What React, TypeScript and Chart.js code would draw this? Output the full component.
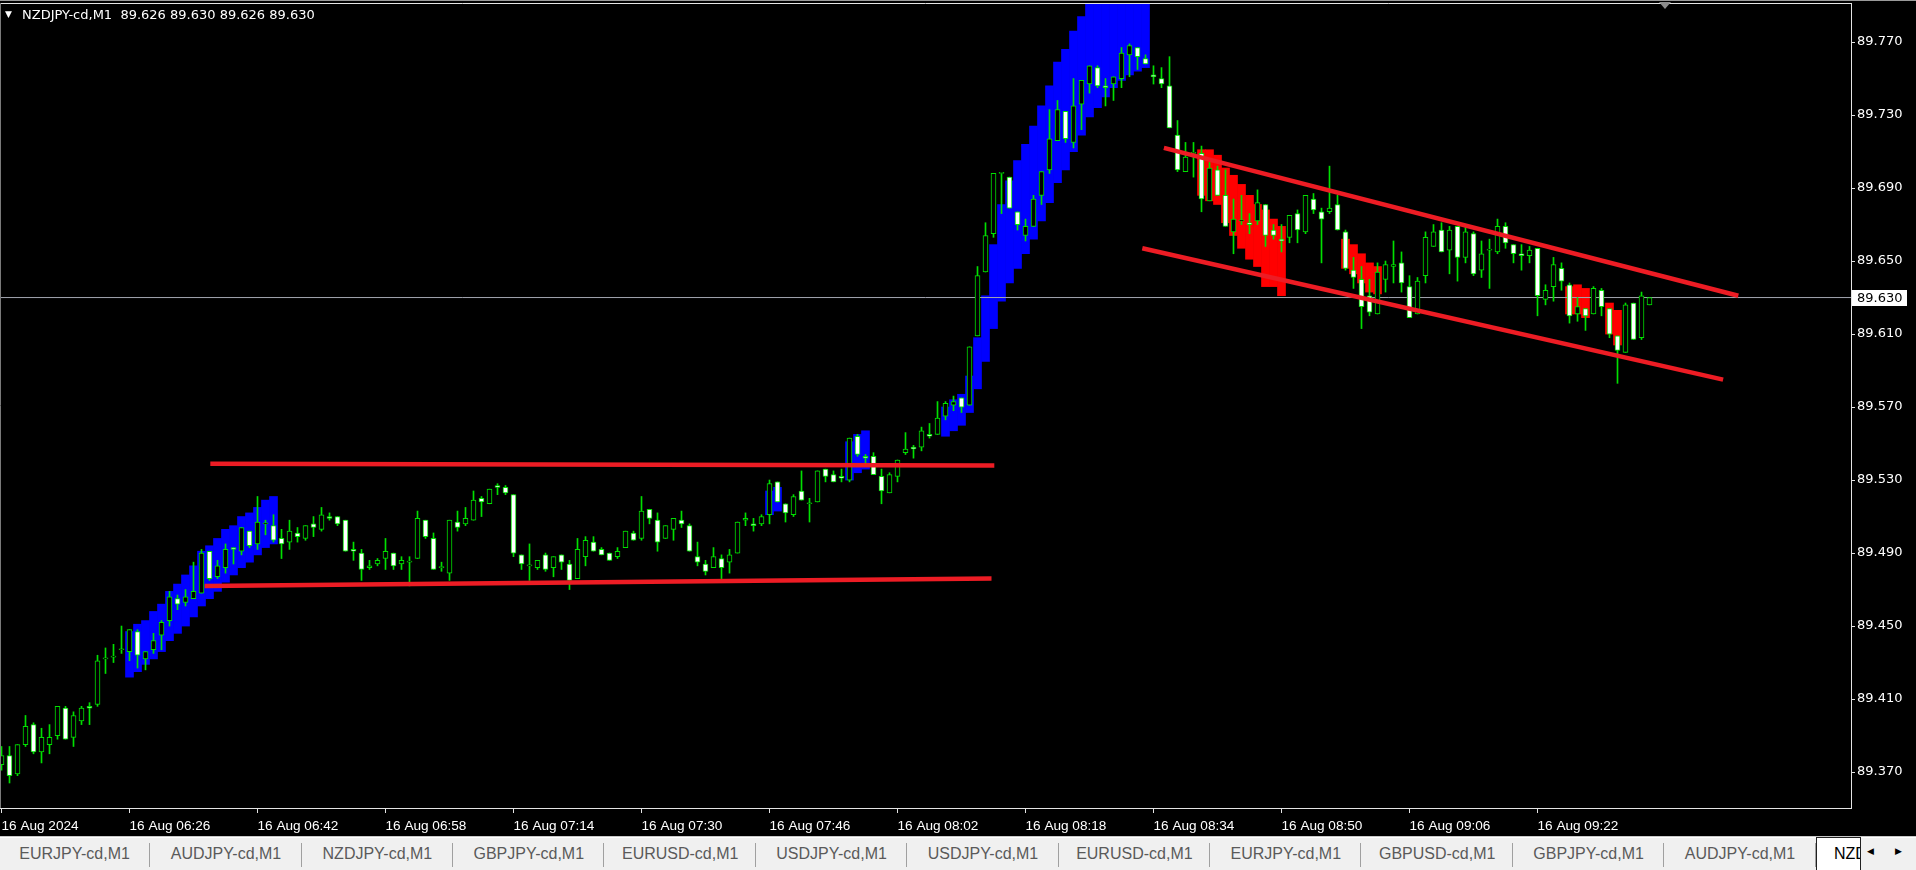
import React, { useEffect, useRef } from "react";
import { Chart, registerables } from "chart.js";

Chart.register(...registerables);

// ---------------- DATA ----------------
const chartTitle = "NZDJPY-cd,M1  89.626 89.630 89.626 89.630";
const lastPrice = 89.63;

// one-minute bars, 16 Aug 2024 06:10 .. 09:36
const opens = [
  89.374, 89.379, 89.369, 89.385, 89.396, 89.381, 89.385, 89.39, 89.405, 89.389,
  89.398, 89.406, 89.407, 89.432, 89.433, 89.437, 89.436, 89.447, 89.432, 89.437,
  89.445, 89.453, 89.465, 89.463, 89.465, 89.468, 89.491, 89.477, 89.482, 89.493,
  89.491, 89.502, 89.495, 89.506, 89.505, 89.498, 89.496, 89.501, 89.498, 89.506,
  89.503, 89.51, 89.51, 89.508, 89.492, 89.49, 89.482, 89.484, 89.487, 89.49,
  89.484, 89.485, 89.487, 89.508, 89.498, 89.482, 89.479, 89.507, 89.506, 89.508,
  89.52, 89.517, 89.527, 89.526, 89.522, 89.489, 89.483, 89.482, 89.489, 89.482,
  89.489, 89.484, 89.476, 89.488, 89.496, 89.492, 89.49, 89.488, 89.493, 89.501,
  89.498, 89.514, 89.508, 89.498, 89.503, 89.508, 89.505, 89.488, 89.484, 89.482,
  89.487, 89.485, 89.49, 89.508, 89.506, 89.506, 89.511, 89.529, 89.517, 89.511,
  89.524, 89.517, 89.518, 89.536, 89.533, 89.532, 89.53, 89.554, 89.543, 89.543,
  89.532, 89.523, 89.532, 89.545, 89.548, 89.548, 89.555, 89.555, 89.565, 89.571,
  89.575, 89.571, 89.609, 89.644, 89.665, 89.698, 89.696, 89.677, 89.664, 89.669,
  89.686, 89.7, 89.716, 89.732, 89.715, 89.736, 89.747, 89.756, 89.746, 89.747,
  89.75, 89.763, 89.767, 89.761, 89.752, 89.75, 89.746, 89.719, 89.699, 89.709,
  89.709, 89.683, 89.7, 89.686, 89.666, 89.672, 89.671, 89.672, 89.681, 89.667,
  89.662, 89.663, 89.676, 89.666, 89.684, 89.677, 89.677, 89.681, 89.666, 89.645,
  89.64, 89.631, 89.621, 89.64, 89.647, 89.649, 89.636, 89.621, 89.642, 89.658,
  89.667, 89.656, 89.669, 89.652, 89.665, 89.645, 89.656, 89.655, 89.669, 89.659,
  89.654, 89.653, 89.657, 89.629, 89.636, 89.646, 89.637, 89.621, 89.624, 89.621,
  89.634, 89.624, 89.609, 89.6, 89.627, 89.608, 89.626,
];
const highs = [
  89.384, 89.384, 89.385, 89.401, 89.397, 89.394, 89.396, 89.406, 89.406, 89.403,
  89.406, 89.408, 89.434, 89.438, 89.44, 89.45, 89.448, 89.448, 89.436, 89.446,
  89.453, 89.469, 89.467, 89.47, 89.485, 89.492, 89.491, 89.486, 89.495, 89.493,
  89.504, 89.502, 89.521, 89.508, 89.511, 89.503, 89.508, 89.504, 89.505, 89.51,
  89.515, 89.512, 89.51, 89.508, 89.496, 89.492, 89.486, 89.487, 89.498, 89.49,
  89.488, 89.488, 89.513, 89.508, 89.501, 89.485, 89.508, 89.513, 89.515, 89.524,
  89.521, 89.525, 89.528, 89.527, 89.522, 89.489, 89.495, 89.486, 89.49, 89.488,
  89.489, 89.486, 89.498, 89.499, 89.499, 89.493, 89.49, 89.493, 89.502, 89.502,
  89.521, 89.514, 89.512, 89.505, 89.509, 89.513, 89.506, 89.496, 89.486, 89.493,
  89.489, 89.492, 89.507, 89.512, 89.509, 89.511, 89.53, 89.529, 89.517, 89.522,
  89.535, 89.52, 89.535, 89.536, 89.535, 89.536, 89.553, 89.555, 89.544, 89.545,
  89.536, 89.534, 89.541, 89.556, 89.549, 89.559, 89.561, 89.573, 89.573, 89.576,
  89.575, 89.603, 89.647, 89.671, 89.698, 89.698, 89.696, 89.677, 89.673, 89.686,
  89.699, 89.733, 89.738, 89.732, 89.75, 89.749, 89.757, 89.757, 89.75, 89.751,
  89.767, 89.769, 89.767, 89.763, 89.757, 89.756, 89.762, 89.727, 89.715, 89.715,
  89.713, 89.704, 89.702, 89.7, 89.684, 89.686, 89.676, 89.689, 89.681, 89.67,
  89.67, 89.675, 89.678, 89.686, 89.687, 89.679, 89.702, 89.686, 89.667, 89.652,
  89.647, 89.64, 89.649, 89.65, 89.661, 89.655, 89.642, 89.641, 89.666, 89.67,
  89.671, 89.669, 89.669, 89.669, 89.666, 89.661, 89.662, 89.673, 89.671, 89.659,
  89.659, 89.658, 89.657, 89.637, 89.652, 89.649, 89.638, 89.63, 89.624, 89.636,
  89.635, 89.624, 89.609, 89.627, 89.627, 89.633, 89.63,
];
const lows = [
  89.371, 89.364, 89.368, 89.384, 89.38, 89.375, 89.38, 89.388, 89.388, 89.384,
  89.396, 89.396, 89.406, 89.424, 89.43, 89.435, 89.431, 89.427, 89.426, 89.435,
  89.437, 89.45, 89.459, 89.461, 89.465, 89.468, 89.475, 89.476, 89.479, 89.484,
  89.489, 89.493, 89.492, 89.5, 89.496, 89.487, 89.492, 89.496, 89.497, 89.499,
  89.502, 89.508, 89.505, 89.491, 89.486, 89.475, 89.481, 89.483, 89.481, 89.481,
  89.481, 89.472, 89.487, 89.498, 89.481, 89.48, 89.475, 89.502, 89.505, 89.508,
  89.51, 89.517, 89.522, 89.522, 89.488, 89.481, 89.475, 89.481, 89.48, 89.477,
  89.481, 89.47, 89.476, 89.483, 89.491, 89.489, 89.486, 89.487, 89.493, 89.497,
  89.497, 89.506, 89.491, 89.498, 89.497, 89.504, 89.491, 89.483, 89.478, 89.482,
  89.476, 89.479, 89.49, 89.505, 89.502, 89.505, 89.506, 89.518, 89.507, 89.51,
  89.519, 89.507, 89.518, 89.529, 89.529, 89.529, 89.529, 89.543, 89.539, 89.533,
  89.517, 89.523, 89.529, 89.544, 89.542, 89.546, 89.553, 89.555, 89.563, 89.568,
  89.567, 89.571, 89.609, 89.644, 89.663, 89.676, 89.679, 89.667, 89.661, 89.669,
  89.681, 89.698, 89.716, 89.715, 89.712, 89.722, 89.742, 89.745, 89.735, 89.738,
  89.745, 89.751, 89.755, 89.758, 89.747, 89.745, 89.723, 89.699, 89.699, 89.696,
  89.677, 89.683, 89.686, 89.669, 89.654, 89.67, 89.665, 89.67, 89.658, 89.662,
  89.655, 89.66, 89.66, 89.665, 89.676, 89.649, 89.676, 89.667, 89.645, 89.635,
  89.613, 89.62, 89.621, 89.633, 89.638, 89.633, 89.619, 89.621, 89.638, 89.658,
  89.655, 89.643, 89.639, 89.649, 89.642, 89.641, 89.635, 89.654, 89.657, 89.649,
  89.645, 89.649, 89.62, 89.626, 89.628, 89.634, 89.616, 89.617, 89.612, 89.621,
  89.62, 89.608, 89.583, 89.6, 89.607, 89.607, 89.626,
];
const closes = [
  89.379, 89.368, 89.385, 89.395, 89.381, 89.389, 89.389, 89.406, 89.388, 89.401,
  89.405, 89.405, 89.431, 89.432, 89.433, 89.437, 89.448, 89.434, 89.436, 89.442,
  89.452, 89.466, 89.462, 89.466, 89.469, 89.49, 89.476, 89.483, 89.492, 89.492,
  89.504, 89.494, 89.507, 89.506, 89.497, 89.495, 89.502, 89.499, 89.505, 89.504,
  89.511, 89.509, 89.506, 89.491, 89.491, 89.481, 89.483, 89.486, 89.491, 89.483,
  89.486, 89.485, 89.509, 89.499, 89.481, 89.482, 89.508, 89.504, 89.509, 89.519,
  89.518, 89.525, 89.526, 89.523, 89.49, 89.484, 89.483, 89.486, 89.481, 89.488,
  89.485, 89.475, 89.492, 89.497, 89.491, 89.489, 89.486, 89.491, 89.502, 89.497,
  89.513, 89.509, 89.496, 89.505, 89.509, 89.506, 89.491, 89.485, 89.48, 89.488,
  89.482, 89.489, 89.507, 89.509, 89.505, 89.51, 89.528, 89.518, 89.512, 89.521,
  89.519, 89.517, 89.535, 89.532, 89.529, 89.531, 89.553, 89.544, 89.542, 89.533,
  89.524, 89.533, 89.541, 89.547, 89.547, 89.557, 89.554, 89.564, 89.572, 89.573,
  89.57, 89.603, 89.642, 89.664, 89.698, 89.698, 89.679, 89.67, 89.669, 89.684,
  89.699, 89.717, 89.733, 89.717, 89.735, 89.749, 89.757, 89.746, 89.745, 89.751,
  89.764, 89.768, 89.762, 89.758, 89.751, 89.747, 89.723, 89.7, 89.707, 89.709,
  89.684, 89.701, 89.686, 89.669, 89.673, 89.672, 89.67, 89.682, 89.664, 89.664,
  89.661, 89.675, 89.667, 89.686, 89.678, 89.673, 89.679, 89.667, 89.646, 89.641,
  89.625, 89.622, 89.644, 89.648, 89.648, 89.638, 89.619, 89.639, 89.663, 89.666,
  89.655, 89.667, 89.652, 89.666, 89.643, 89.654, 89.656, 89.669, 89.66, 89.654,
  89.653, 89.656, 89.631, 89.634, 89.648, 89.639, 89.62, 89.625, 89.62, 89.635,
  89.625, 89.61, 89.601, 89.626, 89.607, 89.631, 89.63,
];

// blue indicator columns (bar index, top, bottom)
const blueIdx = [
  16, 17, 18, 19, 20, 21, 22, 23, 24, 25, 26, 27, 28, 29, 30, 31, 32, 33, 34,
  96, 97, 106, 107, 108,
  118, 119, 120, 121, 122, 123, 124, 125, 126, 127, 128, 129, 130, 131, 132, 133,
  134, 135, 136, 137, 138, 139, 140, 141, 142, 143,
];
const blueTop = [
  89.447, 89.451, 89.453, 89.458, 89.462, 89.469, 89.473, 89.478, 89.483, 89.491,
  89.494, 89.498, 89.503, 89.505, 89.51, 89.512, 89.515, 89.519, 89.521,
  89.524, 89.526, 89.551, 89.555, 89.557,
  89.57, 89.574, 89.577, 89.587, 89.608, 89.631, 89.659, 89.681, 89.694, 89.705,
  89.714, 89.724, 89.735, 89.746, 89.759, 89.766, 89.776, 89.784, 89.8, 89.8,
  89.8, 89.8, 89.8, 89.8, 89.8, 89.8,
];
const blueBottom = [
  89.422, 89.425, 89.429, 89.432, 89.436, 89.442, 89.446, 89.45, 89.455, 89.461,
  89.465, 89.469, 89.474, 89.478, 89.482, 89.485, 89.489, 89.493, 89.495,
  89.511, 89.513, 89.53, 89.534, 89.536,
  89.554, 89.557, 89.56, 89.567, 89.58, 89.595, 89.613, 89.628, 89.638, 89.646,
  89.654, 89.662, 89.672, 89.682, 89.693, 89.7, 89.71, 89.719, 89.729, 89.734,
  89.74, 89.745, 89.749, 89.752, 89.754, 89.756,
];

// red indicator columns
const redIdx = [150, 151, 152, 153, 154, 155, 156, 157, 158, 159, 160, 168, 169, 170, 171, 172, 196, 197, 198, 201, 202];
const redTop = [
  89.711, 89.711, 89.708, 89.701, 89.697, 89.692, 89.686, 89.681, 89.678, 89.673, 89.669,
  89.662, 89.659, 89.654, 89.649, 89.647, 89.636, 89.637, 89.635, 89.627, 89.623,
];
const redBottom = [
  89.686, 89.683, 89.681, 89.671, 89.664, 89.657, 89.651, 89.647, 89.636, 89.636, 89.631,
  89.646, 89.643, 89.638, 89.633, 89.632, 89.621, 89.621, 89.619, 89.61, 89.604,
];

// hand-drawn trend lines: [barIndex, price] end points
const resistanceLine = [[26.1, 89.539], [124.1, 89.538]];
const supportLine = [[25.4, 89.472], [123.75, 89.476]];
const channelUpper = [[145.3, 89.712], [217.1, 89.631]];
const channelLower = [[142.6, 89.657], [215.2, 89.585]];

// axes
const yTickValues = [89.37, 89.41, 89.45, 89.49, 89.53, 89.57, 89.61, 89.65, 89.69, 89.73, 89.77];
const timeTickIdx = [0, 16, 32, 48, 64, 80, 96, 112, 128, 144, 160, 176, 192];
const timeTickLabels = [
  "16 Aug 2024", "16 Aug 06:26", "16 Aug 06:42", "16 Aug 06:58", "16 Aug 07:14",
  "16 Aug 07:30", "16 Aug 07:46", "16 Aug 08:02", "16 Aug 08:18", "16 Aug 08:34",
  "16 Aug 08:50", "16 Aug 09:06", "16 Aug 09:22",
];
const tabNames = [
  "EURJPY-cd,M1", "AUDJPY-cd,M1", "NZDJPY-cd,M1", "GBPJPY-cd,M1", "EURUSD-cd,M1", "USDJPY-cd,M1",
  "USDJPY-cd,M1", "EURUSD-cd,M1", "EURJPY-cd,M1", "GBPUSD-cd,M1", "GBPJPY-cd,M1", "AUDJPY-cd,M1",
];
const activeTab = "NZDJPY-cd,M1";

// ---------------- STYLE ----------------
const Y_MIN = 89.3503;
const Y_MAX = 89.7914;
const X_MIN = -0.1875;
const X_MAX = 231.1875;
const GREEN = "#00e000";
const FRAME = "#e4e4e4";
const LINE_RED = "#ed1c24";
const PRICE_FONT = "'DejaVu Sans', sans-serif";

const chromePlugin = {
  id: "mtChrome",
  beforeDraw(chart: any) {
    const { ctx, width, height } = chart;
    ctx.save();
    ctx.fillStyle = "#000";
    ctx.fillRect(0, 0, width, height);
    ctx.fillStyle = "#9a9a9a";
    ctx.fillRect(0, 0, width, 1);
    ctx.restore();
  },
  afterDraw(chart: any) {
    const { ctx, chartArea: a, scales } = chart;
    const y = scales.y;
    ctx.save();
    ctx.strokeStyle = FRAME;
    ctx.lineWidth = 1;
    ctx.beginPath();
    ctx.moveTo(a.left, a.top + 0.5);
    ctx.lineTo(a.right, a.top + 0.5);
    ctx.stroke();
    ctx.strokeStyle = "#7a7a7a";
    ctx.beginPath();
    ctx.moveTo(a.left + 0.5, a.top);
    ctx.lineTo(a.left + 0.5, a.bottom);
    ctx.stroke();
    // current price tag
    const py = Math.round(y.getPixelForValue(lastPrice));
    ctx.fillStyle = "#fff";
    ctx.fillRect(a.right + 1, py - 8, 55, 16);
    ctx.fillStyle = "#000";
    ctx.font = "13px " + PRICE_FONT;
    ctx.textBaseline = "middle";
    ctx.textAlign = "left";
    ctx.fillText(lastPrice.toFixed(3), a.right + 6, py + 0.5);
    // chart shift marker
    ctx.fillStyle = "#8c8c8c";
    ctx.beginPath();
    ctx.moveTo(1659, 2);
    ctx.lineTo(1671, 2);
    ctx.lineTo(1665, 9);
    ctx.closePath();
    ctx.fill();
    ctx.restore();
  },
};

function lineDataset(pts: number[][]) {
  return {
    type: "line",
    data: pts.map((p) => ({ x: p[0], y: p[1] })),
    borderColor: LINE_RED,
    borderWidth: 4.5,
    pointRadius: 0,
    fill: false,
    tension: 0,
    order: 0,
  };
}

export default function App() {
  const canvasRef = useRef<HTMLCanvasElement | null>(null);

  useEffect(() => {
    document.body.style.margin = "0";
    document.body.style.background = "#000";
    const canvas = canvasRef.current;
    if (!canvas) return;

    const idx = opens.map((_, i) => i);
    const bodyColors = idx.map((i) => (closes[i] >= opens[i] ? "#000000" : "#ffffff"));

    const chart = new Chart(canvas, {
      type: "bar",
      data: {
        datasets: [
          lineDataset(resistanceLine),
          lineDataset(supportLine),
          lineDataset(channelUpper),
          lineDataset(channelLower),
          {
            type: "bar",
            data: idx.map((i) => ({ x: i, y: [opens[i], closes[i]] })),
            backgroundColor: bodyColors,
            borderColor: GREEN,
            borderWidth: 1,
            borderSkipped: false,
            barThickness: 5,
            minBarLength: 1,
            grouped: false,
            order: 1,
          },
          {
            type: "bar",
            data: idx.map((i) => ({ x: i, y: [lows[i], highs[i]] })),
            backgroundColor: GREEN,
            borderWidth: 0,
            barThickness: 1,
            minBarLength: 1,
            grouped: false,
            order: 2,
          },
          {
            type: "line",
            data: [
              { x: X_MIN, y: lastPrice },
              { x: X_MAX, y: lastPrice },
            ],
            borderColor: "#a3a6b0",
            borderWidth: 1,
            pointRadius: 0,
            fill: false,
            order: 3,
          },
          {
            type: "bar",
            data: blueIdx.map((b, k) => ({ x: b, y: [blueBottom[k], blueTop[k]] })),
            backgroundColor: "#0000ff",
            borderWidth: 0,
            barThickness: 8,
            grouped: false,
            order: 4,
          },
          {
            type: "bar",
            data: redIdx.map((b, k) => ({ x: b, y: [redBottom[k], redTop[k]] })),
            backgroundColor: "#ff0000",
            borderWidth: 0,
            barThickness: 8,
            grouped: false,
            order: 4,
          },
        ] as any,
      },
      options: {
        responsive: false,
        animation: false,
        devicePixelRatio: 1,
        events: [],
        layout: { padding: { top: 3, left: 0, right: 0, bottom: 0 } },
        plugins: { legend: { display: false }, tooltip: { enabled: false }, title: { display: false } },
        scales: {
          x: {
            type: "linear",
            min: X_MIN,
            max: X_MAX,
            offset: false,
            afterBuildTicks: (s: any) => {
              s.ticks = timeTickIdx.map((v) => ({ value: v }));
            },
            afterFit: (s: any) => {
              s.height = 28;
              s.paddingLeft = 0;
              s.paddingRight = 0;
            },
            ticks: {
              autoSkip: false,
              maxRotation: 0,
              minRotation: 0,
              align: "start",
              padding: 5,
              color: "#ffffff",
              font: { family: "'Liberation Sans', Arial, sans-serif", size: 13.6 },
              callback: (v: any) => {
                const k = timeTickIdx.indexOf(Number(v));
                return k >= 0 ? timeTickLabels[k] : "";
              },
            },
            grid: { drawOnChartArea: false, drawTicks: true, tickLength: 5, color: FRAME, offset: false },
            border: { display: true, color: FRAME },
          },
          y: {
            type: "linear",
            position: "right",
            min: Y_MIN,
            max: Y_MAX,
            beginAtZero: false,
            afterBuildTicks: (s: any) => {
              s.ticks = yTickValues.map((v) => ({ value: v }));
            },
            afterFit: (s: any) => {
              s.width = 65;
              s.paddingTop = 0;
              s.paddingBottom = 0;
            },
            ticks: {
              autoSkip: false,
              padding: 2,
              color: "#ffffff",
              font: { family: PRICE_FONT, size: 13 },
              callback: (v: any) => Number(v).toFixed(3),
            },
            grid: { drawOnChartArea: false, drawTicks: true, tickLength: 4, color: FRAME },
            border: { display: true, color: FRAME },
          },
        },
      } as any,
      plugins: [chromePlugin],
    });
    return () => chart.destroy();
  }, []);

  const TAB_W = 151.4;
  const tabFont = "'Liberation Sans', Arial, sans-serif";

  return (
    <div style={{ position: "fixed", left: 0, top: 0, width: 1916, height: 870, background: "#000", overflow: "hidden" }}>
      <canvas ref={canvasRef} width={1916} height={836} style={{ position: "absolute", left: 0, top: 0, width: 1916, height: 836 }} />
      <div style={{ position: "absolute", left: 5, top: 7, color: "#fff", fontSize: 9, lineHeight: "15px", fontFamily: PRICE_FONT }}>▼</div>
      <div
        style={{
          position: "absolute",
          left: 22,
          top: 7,
          color: "#fff",
          fontSize: 13,
          lineHeight: "15px",
          fontFamily: PRICE_FONT,
          whiteSpace: "pre",
        }}
      >
        {chartTitle}
      </div>
      {/* tab bar */}
      <div style={{ position: "absolute", left: 0, top: 836, width: 1916, height: 1, background: "#c8c8c8" }} />
      <div style={{ position: "absolute", left: 0, top: 837, width: 1916, height: 33, background: "#f0f0f0", borderTop: "1px solid #ffffff", boxSizing: "border-box" }}>
        {tabNames.map((name, k) => (
          <div
            key={k}
            style={{
              position: "absolute",
              left: -1.1 + k * TAB_W,
              top: 0,
              width: TAB_W,
              height: 32,
              display: "flex",
              alignItems: "center",
              justifyContent: "center",
              color: "#5a5a5a",
              fontFamily: tabFont,
              fontSize: 16,
            }}
          >
            {name}
            <div style={{ position: "absolute", right: 0, top: 5, width: 1, height: 24, background: "#a0a0a0" }} />
          </div>
        ))}
        <div
          style={{
            position: "absolute",
            left: 1816,
            top: -1,
            width: 45,
            height: 34,
            background: "#ffffff",
            borderLeft: "1px solid #202020",
            borderTop: "1px solid #202020",
            borderRight: "1px solid #202020",
            boxSizing: "border-box",
            overflow: "hidden",
            whiteSpace: "nowrap",
            color: "#000",
            fontFamily: tabFont,
            fontSize: 16,
            lineHeight: "32px",
            paddingLeft: 17,
          }}
        >
          {activeTab}
        </div>
        <div style={{ position: "absolute", left: 1867, top: 8, fontSize: 9, color: "#000", fontFamily: PRICE_FONT }}>◀</div>
        <div style={{ position: "absolute", left: 1895, top: 8, fontSize: 9, color: "#000", fontFamily: PRICE_FONT }}>▶</div>
      </div>
    </div>
  );
}
